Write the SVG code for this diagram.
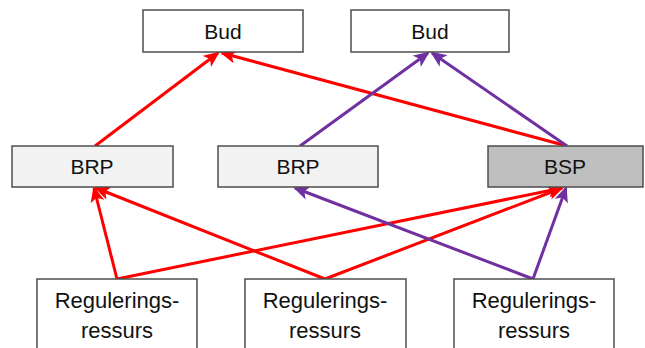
<svg xmlns="http://www.w3.org/2000/svg" width="645" height="348" viewBox="0 0 645 348">
<defs>
<style>
.box{stroke:#4d4d4d;stroke-width:1.5;fill:#fff}
.brp{fill:#f2f2f2}
.bsp{fill:#bfbfbf}
.t{font-family:"Liberation Sans",Arial,sans-serif;font-size:21px;fill:#111;text-anchor:middle}
.t2{font-size:22px}
.r{stroke:#ff0000;stroke-width:3;fill:none;marker-end:url(#ar)}
.p{stroke:#7030a0;stroke-width:3;fill:none;marker-end:url(#ap)}
</style>
<marker id="ar" markerUnits="userSpaceOnUse" markerWidth="16" markerHeight="14" viewBox="0 0 16 14" refX="14" refY="7" orient="auto"><path d="M0,0 L16,7 L0,14 L4,7 z" fill="#ff0000"/></marker>
<marker id="ap" markerUnits="userSpaceOnUse" markerWidth="16" markerHeight="14" viewBox="0 0 16 14" refX="14" refY="7" orient="auto"><path d="M0,0 L16,7 L0,14 L4,7 z" fill="#7030a0"/></marker>
</defs>
<g id="connectors">
<line class="r" x1="95" y1="146" x2="218" y2="53"/>
<line class="r" x1="567" y1="146" x2="222" y2="53"/>
<line class="p" x1="300" y1="146" x2="428" y2="53"/>
<line class="p" x1="567" y1="146" x2="432" y2="53"/>
<line class="r" x1="117" y1="279" x2="94" y2="188"/>
<line class="r" x1="117" y1="279" x2="562" y2="188"/>
<line class="r" x1="325" y1="279" x2="96" y2="188"/>
<line class="r" x1="325" y1="279" x2="562" y2="188"/>
<line class="p" x1="533" y1="279" x2="295" y2="188"/>
<line class="p" x1="533" y1="279" x2="566" y2="188"/>
</g>
<g id="bud1"><rect class="box" x="143" y="10" width="160" height="42"/><text class="t" x="223" y="39">Bud</text></g>
<g id="bud2"><rect class="box" x="351" y="10" width="158" height="42"/><text class="t" x="430" y="39">Bud</text></g>
<g id="brp1"><rect class="box brp" x="12" y="146" width="161" height="41"/><text class="t" x="92" y="174">BRP</text></g>
<g id="brp2"><rect class="box brp" x="218" y="146" width="160" height="41"/><text class="t" x="298" y="174">BRP</text></g>
<g id="bsp"><rect class="box bsp" x="488" y="146" width="155" height="41"/><text class="t" x="565" y="174">BSP</text></g>
<g id="res1"><rect class="box" x="37" y="279" width="160" height="80"/><text class="t t2" x="117" y="308">Regulerings-</text><text class="t t2" x="117" y="338">ressurs</text></g>
<g id="res2"><rect class="box" x="245" y="279" width="161" height="80"/><text class="t t2" x="325" y="308">Regulerings-</text><text class="t t2" x="325" y="338">ressurs</text></g>
<g id="res3"><rect class="box" x="454" y="279" width="160" height="80"/><text class="t t2" x="534" y="308">Regulerings-</text><text class="t t2" x="534" y="338">ressurs</text></g>
</svg>
